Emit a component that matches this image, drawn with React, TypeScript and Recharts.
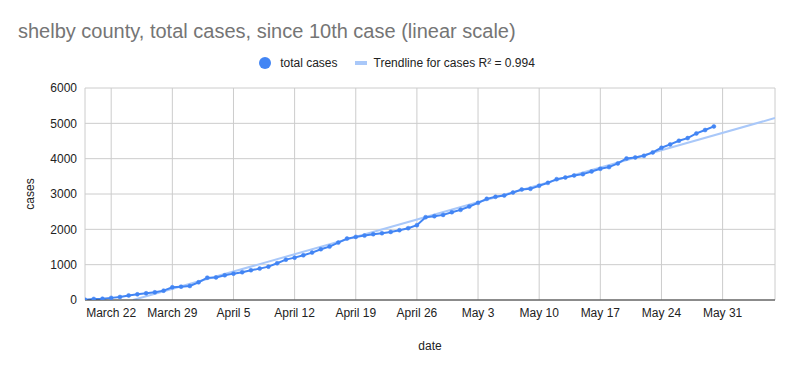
import React from "react";
import { LineChart, Line, XAxis, YAxis, CartesianGrid, Label } from "recharts";

const title = "shelby county, total cases, since 10th case (linear scale)";
const seriesName = "total cases";
const trendName = "Trendline for cases R² = 0.994";

// days since March 19 (10th case)
const cases = [
  10, 30, 35, 60, 85, 130, 160, 190, 218, 265,
  360, 378, 397, 501, 632, 640, 700, 746, 785, 842,
  888, 944, 1040, 1142, 1199, 1265, 1341, 1437, 1511, 1624,
  1738, 1786, 1823, 1862, 1890, 1927, 1976, 2032, 2117, 2344,
  2372, 2409, 2485, 2551, 2645, 2749, 2863, 2920, 2957, 3042,
  3127, 3146, 3235, 3316, 3420, 3467, 3524, 3562, 3637, 3713,
  3761, 3864, 4006, 4035, 4082, 4176, 4308, 4403, 4507, 4582,
  4714, 4810, 4912,
];

const trendDays = [5.5, 79];
const trendValues = [0, 5150];

const tickDays = [3, 10, 17, 24, 31, 38, 45, 52, 59, 66, 73];
const tickLabels = [
  "March 22", "March 29", "April 5", "April 12", "April 19", "April 26",
  "May 3", "May 10", "May 17", "May 24", "May 31",
];
const yTicks = [0, 1000, 2000, 3000, 4000, 5000, 6000];

const caseData = cases.map((c, i) => ({ day: i, cases: c }));
const trendData = trendDays.map((d, i) => ({ day: d, trend: trendValues[i] }));

const FONT = "'Liberation Sans', Arial, sans-serif";

export default function App() {
  return (
    <div style={{ position: "absolute", left: 0, top: 0, width: 794, height: 371, background: "#fff", fontFamily: FONT }}>
      <div style={{ position: "absolute", left: 18, top: 20, fontSize: 20, color: "#757575", whiteSpace: "nowrap" }}>
        {title}
      </div>
      <div style={{ position: "absolute", left: 0, top: 56, width: 794, display: "flex", justifyContent: "center", alignItems: "center", fontSize: 12, color: "#222" }}>
        <span style={{ display: "inline-block", width: 12, height: 12, borderRadius: "50%", background: "#4285F4", marginRight: 9 }} />
        <span>{seriesName}</span>
        <span style={{ display: "inline-block", width: 12, height: 4, background: "#A9C8F9", marginLeft: 17, marginRight: 7 }} />
        <span>{trendName}</span>
      </div>
      <LineChart width={794} height={371} margin={{ top: 88, right: 19, bottom: 0, left: 0 }}>
        <CartesianGrid stroke="#cccccc" vertical={true} horizontal={true} />
        <XAxis
          type="number"
          dataKey="day"
          domain={[0, 79]}
          ticks={tickDays}
          tickFormatter={(v: number) => tickLabels[tickDays.indexOf(v)] ?? ""}
          allowDataOverflow
          height={71}
          tickLine={false}
          axisLine={{ stroke: "#333333" }}
          tick={{ fontSize: 12, fill: "#222222", fontFamily: FONT }}
          interval={0}
        >
          <Label value="date" position="insideBottom" offset={21} style={{ fontSize: 12, fill: "#222222", fontFamily: FONT }} />
        </XAxis>
        <YAxis
          type="number"
          domain={[0, 6000]}
          ticks={yTicks}
          width={85}
          tickLine={false}
          axisLine={false}
          allowDataOverflow
          tick={{ fontSize: 12, fill: "#222222", fontFamily: FONT }}
        >
          <Label value="cases" angle={-90} position="insideLeft" offset={30} style={{ fontSize: 12, fill: "#222222", fontFamily: FONT, textAnchor: "middle" }} />
        </YAxis>
        <Line
          data={trendData}
          dataKey="trend"
          type="linear"
          stroke="#A9C8F9"
          strokeWidth={2}
          dot={false}
          isAnimationActive={false}
        />
        <Line
          data={caseData}
          dataKey="cases"
          type="linear"
          stroke="#4285F4"
          strokeWidth={2}
          dot={{ r: 2, fill: "#4285F4", stroke: "#4285F4", strokeWidth: 0.5 }}
          isAnimationActive={false}
        />
      </LineChart>
    </div>
  );
}
